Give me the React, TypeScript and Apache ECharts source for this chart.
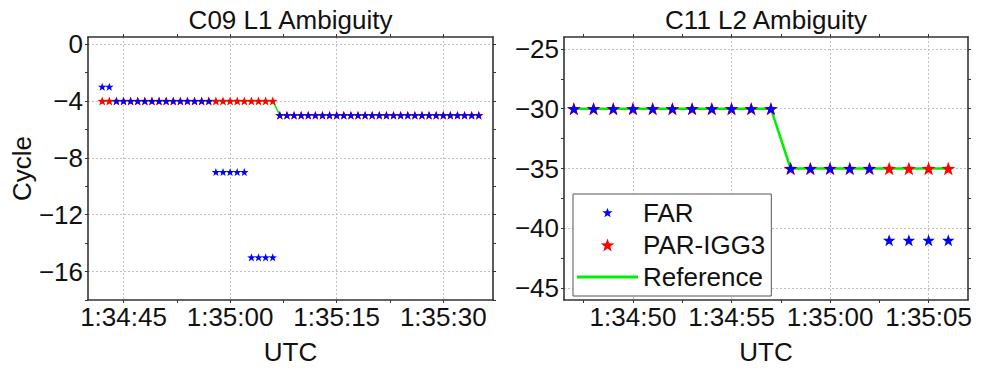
import React, { useEffect, useRef } from 'react';
import * as echarts from 'echarts';

// ---- C09 L1 ambiguity (cycles), one epoch per second ----
const c09Epochs = [
  '1:34:42', '1:34:43', '1:34:44', '1:34:45', '1:34:46', '1:34:47', '1:34:48', '1:34:49', '1:34:50',
  '1:34:51', '1:34:52', '1:34:53', '1:34:54', '1:34:55', '1:34:56', '1:34:57', '1:34:58', '1:34:59',
  '1:35:00', '1:35:01', '1:35:02', '1:35:03', '1:35:04', '1:35:05', '1:35:06', '1:35:07', '1:35:08',
  '1:35:09', '1:35:10', '1:35:11', '1:35:12', '1:35:13', '1:35:14', '1:35:15', '1:35:16', '1:35:17',
  '1:35:18', '1:35:19', '1:35:20', '1:35:21', '1:35:22', '1:35:23', '1:35:24', '1:35:25', '1:35:26',
  '1:35:27', '1:35:28', '1:35:29', '1:35:30', '1:35:31', '1:35:32', '1:35:33', '1:35:34', '1:35:35',
];
const c09Far = [
  -3, -3, -4, -4, -4, -4, -4, -4, -4,
  -4, -4, -4, -4, -4, -4, -4, -9, -9,
  -9, -9, -9, -15, -15, -15, -15, -5, -5,
  -5, -5, -5, -5, -5, -5, -5, -5, -5,
  -5, -5, -5, -5, -5, -5, -5, -5, -5,
  -5, -5, -5, -5, -5, -5, -5, -5, -5,
];
const c09Par = [
  -4, -4, -4, -4, -4, -4, -4, -4, -4,
  -4, -4, -4, -4, -4, -4, -4, -4, -4,
  -4, -4, -4, -4, -4, -4, -4, -5, -5,
  -5, -5, -5, -5, -5, -5, -5, -5, -5,
  -5, -5, -5, -5, -5, -5, -5, -5, -5,
  -5, -5, -5, -5, -5, -5, -5, -5, -5,
];
const c09Ref = [
  -4, -4, -4, -4, -4, -4, -4, -4, -4,
  -4, -4, -4, -4, -4, -4, -4, -4, -4,
  -4, -4, -4, -4, -4, -4, -4, -5, -5,
  -5, -5, -5, -5, -5, -5, -5, -5, -5,
  -5, -5, -5, -5, -5, -5, -5, -5, -5,
  -5, -5, -5, -5, -5, -5, -5, -5, -5,
];
const c09TimeLabels = ['1:34:45', '1:35:00', '1:35:15', '1:35:30'];
const c09CycleLabels = [0, -4, -8, -12, -16];

// ---- C11 L2 ambiguity (cycles) ----
const c11Epochs = [
  '1:34:47', '1:34:48', '1:34:49', '1:34:50', '1:34:51', '1:34:52', '1:34:53', '1:34:54', '1:34:55', '1:34:56',
  '1:34:57', '1:34:58', '1:34:59', '1:35:00', '1:35:01', '1:35:02', '1:35:03', '1:35:04', '1:35:05', '1:35:06',
];
const c11Far = [-30, -30, -30, -30, -30, -30, -30, -30, -30, -30, -30, -35, -35, -35, -35, -35, -41, -41, -41, -41];
const c11Par = [-30, -30, -30, -30, -30, -30, -30, -30, -30, -30, -30, -35, -35, -35, -35, -35, -35, -35, -35, -35];
const c11Ref = [-30, -30, -30, -30, -30, -30, -30, -30, -30, -30, -30, -35, -35, -35, -35, -35, -35, -35, -35, -35];
const c11TimeLabels = ['1:34:50', '1:34:55', '1:35:00', '1:35:05'];
const c11CycleLabels = [-25, -30, -35, -40, -45];

const FONT = '"Liberation Sans", Arial, Helvetica, sans-serif';
const TEXT = '#111';
const FRAME = '#333333';
const GRIDLINE = '#c2c2c2';
const FS = 26;

// "h:mm:ss" <-> seconds of day
const toSec = (s: string) => {
  const [h, m, sec] = s.split(':').map(Number);
  return h * 3600 + m * 60 + sec;
};
const fmtTime = (v: number) => {
  const t = Math.round(v);
  const h = Math.floor(t / 3600);
  const m = Math.floor((t % 3600) / 60);
  const s = t % 60;
  return `${h}:${String(m).padStart(2, '0')}:${String(s).padStart(2, '0')}`;
};
const fmtCycle = (v: number) => (v < 0 ? '\u2212' + Math.abs(v) : String(v));

// majors plus half-step minors that fall inside [lo, hi]
const withMinors = (majors: number[], lo: number, hi: number) => {
  const sorted = [...majors].sort((a, b) => a - b);
  const half = (sorted[1] - sorted[0]) / 2;
  const out: number[] = [];
  for (let v = sorted[0] - half; v <= sorted[sorted.length - 1] + half + 1e-9; v += half) {
    if (v >= lo - 1e-9 && v <= hi + 1e-9) out.push(v);
  }
  return out;
};

// five-pointed star marker; `pad` enlarges the bounding box so the star draws smaller
const starPath = (pad = 0) => {
  const c = 50 + pad;
  const pts: string[] = [];
  for (let k = 0; k < 10; k++) {
    const r = k % 2 === 0 ? 50 : 20;
    const a = -Math.PI / 2 + (k * Math.PI) / 5;
    pts.push(`${(c + r * Math.cos(a)).toFixed(2)} ${(c + r * Math.sin(a)).toFixed(2)}`);
  }
  let d = 'path://';
  if (pad) d += `M0 0 M${(2 * c).toFixed(2)} ${(2 * c).toFixed(2)} `;
  return d + 'M' + pts.join(' L') + ' Z';
};
const STAR = starPath();
const LINE_ICON = 'path://M0 0 H60 V3 H0 Z';

const pairs = (t: string[], v: number[]) => t.map((s, i) => [toSec(s), v[i]]);

type Panel = {
  left: number;
  width: number;
  xRange: [number, number];
  yRange: [number, number];
  xLabels: number[];
  yLabels: number[];
  yName?: string;
};

const TOP = 37;
const HEIGHT = 265;

const panels: Panel[] = [
  {
    left: 88,
    width: 405,
    xRange: [toSec('1:34:40'), toSec('1:35:37')],
    yRange: [-18, 0.5],
    xLabels: c09TimeLabels.map(toSec),
    yLabels: c09CycleLabels,
    yName: 'Cycle',
  },
  {
    left: 564,
    width: 404,
    xRange: [toSec('1:34:46.5'), toSec('1:35:07')],
    yRange: [-46, -24],
    xLabels: c11TimeLabels.map(toSec),
    yLabels: c11CycleLabels,
  },
];

const frameLine = { show: true, onZero: false, lineStyle: { color: FRAME, width: 1.6 } };
const tickStyle = (values: number[]) => ({
  show: true,
  inside: false,
  length: 3,
  customValues: values,
  lineStyle: { color: FRAME, width: 1 },
});
const gridSplit = { show: true, lineStyle: { color: GRIDLINE, width: 1, type: [2, 2] as number[] } };

function buildOption() {
  const grid: any[] = [];
  const xAxis: any[] = [];
  const yAxis: any[] = [];

  panels.forEach((p, gi) => {
    grid.push({ left: p.left, top: TOP, width: p.width, height: HEIGHT, containLabel: false });
    const xTicks = withMinors(p.xLabels, p.xRange[0], p.xRange[1]);
    const yTicks = withMinors(p.yLabels, p.yRange[0], p.yRange[1]);
    const xBase = { type: 'value', gridIndex: gi, min: p.xRange[0], max: p.xRange[1] };
    const yBase = { type: 'value', gridIndex: gi, min: p.yRange[0], max: p.yRange[1] };

    // bottom: labels, ticks, axis title
    xAxis.push({
      ...xBase,
      position: 'bottom',
      axisLine: frameLine,
      axisTick: tickStyle(xTicks),
      axisLabel: {
        customValues: p.xLabels,
        formatter: fmtTime,
        margin: 4,
        color: TEXT,
        fontSize: FS,
        fontFamily: FONT,
      },
      splitLine: { show: false },
      name: 'UTC',
      nameLocation: 'middle',
      nameGap: 39,
      nameTextStyle: { color: TEXT, fontSize: FS, fontFamily: FONT },
    });
    // top frame
    xAxis.push({
      ...xBase,
      position: 'top',
      axisLine: frameLine,
      axisTick: tickStyle(xTicks),
      axisLabel: { show: false },
      splitLine: { show: false },
    });
    // vertical dotted grid at labelled times
    xAxis.push({
      ...xBase,
      position: 'bottom',
      axisLine: { show: false, onZero: false },
      axisTick: { show: false, customValues: p.xLabels },
      axisLabel: { show: false },
      splitLine: gridSplit,
    });

    yAxis.push({
      ...yBase,
      position: 'left',
      axisLine: frameLine,
      axisTick: tickStyle(yTicks),
      axisLabel: {
        customValues: p.yLabels,
        formatter: fmtCycle,
        margin: 5,
        color: TEXT,
        fontSize: FS,
        fontFamily: FONT,
      },
      splitLine: { show: false },
      ...(p.yName
        ? {
            name: p.yName,
            nameLocation: 'middle',
            nameGap: 48,
            nameTextStyle: { color: TEXT, fontSize: FS, fontFamily: FONT },
          }
        : {}),
    });
    yAxis.push({
      ...yBase,
      position: 'right',
      axisLine: frameLine,
      axisTick: tickStyle(yTicks),
      axisLabel: { show: false },
      splitLine: { show: false },
    });
    yAxis.push({
      ...yBase,
      position: 'left',
      axisLine: { show: false, onZero: false },
      axisTick: { show: false, customValues: p.yLabels },
      axisLabel: { show: false },
      splitLine: gridSplit,
    });
  });

  const sets = [
    { far: c09Far, par: c09Par, ref: c09Ref, t: c09Epochs, farSize: 8.5, parSize: 9.5, lineW: 1.5 },
    { far: c11Far, par: c11Par, ref: c11Ref, t: c11Epochs, farSize: 12.5, parSize: 14, lineW: 2.5 },
  ];

  const series: any[] = [];
  sets.forEach((s, gi) => {
    const xi = gi * 3;
    const yi = gi * 3;
    series.push({
      type: 'line',
      name: 'Reference',
      xAxisIndex: xi,
      yAxisIndex: yi,
      data: pairs(s.t, s.ref),
      symbol: 'none',
      showSymbol: false,
      lineStyle: { color: '#00ee00', width: s.lineW },
      itemStyle: { color: '#00ee00' },
      z: 2,
    });
    series.push({
      type: 'scatter',
      name: 'PAR-IGG3',
      xAxisIndex: xi,
      yAxisIndex: yi,
      data: pairs(s.t, s.par),
      symbol: STAR,
      symbolSize: s.parSize,
      symbolKeepAspect: true,
      itemStyle: { color: '#ff0000', opacity: 1 },
      z: 3,
    });
    series.push({
      type: 'scatter',
      name: 'FAR',
      xAxisIndex: xi,
      yAxisIndex: yi,
      data: pairs(s.t, s.far),
      symbol: STAR,
      symbolSize: s.farSize,
      symbolKeepAspect: true,
      itemStyle: { color: '#0000ff', opacity: 1 },
      z: 4,
    });
  });

  return {
    animation: false,
    backgroundColor: '#ffffff',
    grid,
    xAxis,
    yAxis,
    series,
    legend: {
      orient: 'vertical',
      left: 573,
      top: 194,
      padding: [4, 6, 4, 4],
      itemWidth: 61,
      itemHeight: 13,
      itemGap: 2,
      selectedMode: false,
      backgroundColor: '#ffffff',
      borderColor: '#555555',
      borderWidth: 1,
      borderRadius: 0,
      z: 10,
      textStyle: { color: TEXT, fontSize: 26, fontFamily: FONT, lineHeight: 30 },
      data: [
        { name: 'FAR', icon: starPath(11) },
        { name: 'PAR-IGG3', icon: STAR },
        { name: 'Reference', icon: LINE_ICON },
      ],
    },
    graphic: [
      {
        type: 'text',
        x: panels[0].left + panels[0].width / 2,
        y: 20,
        style: {
          text: 'C09 L1 Ambiguity',
          align: 'center',
          verticalAlign: 'middle',
          fontSize: FS,
          fontFamily: FONT,
          fill: TEXT,
        },
      },
      {
        type: 'text',
        x: panels[1].left + panels[1].width / 2,
        y: 20,
        style: {
          text: 'C11 L2 Ambiguity',
          align: 'center',
          verticalAlign: 'middle',
          fontSize: FS,
          fontFamily: FONT,
          fill: TEXT,
        },
      },
    ],
  };
}

export default function App() {
  const ref = useRef<HTMLDivElement>(null);
  useEffect(() => {
    if (!ref.current) return;
    const chart = echarts.init(ref.current, undefined, { renderer: 'svg' });
    chart.setOption(buildOption() as any);
    return () => chart.dispose();
  }, []);
  return (
    <div
      ref={ref}
      style={{ position: 'absolute', left: 0, top: 0, width: 989, height: 370, background: '#fff' }}
    />
  );
}
